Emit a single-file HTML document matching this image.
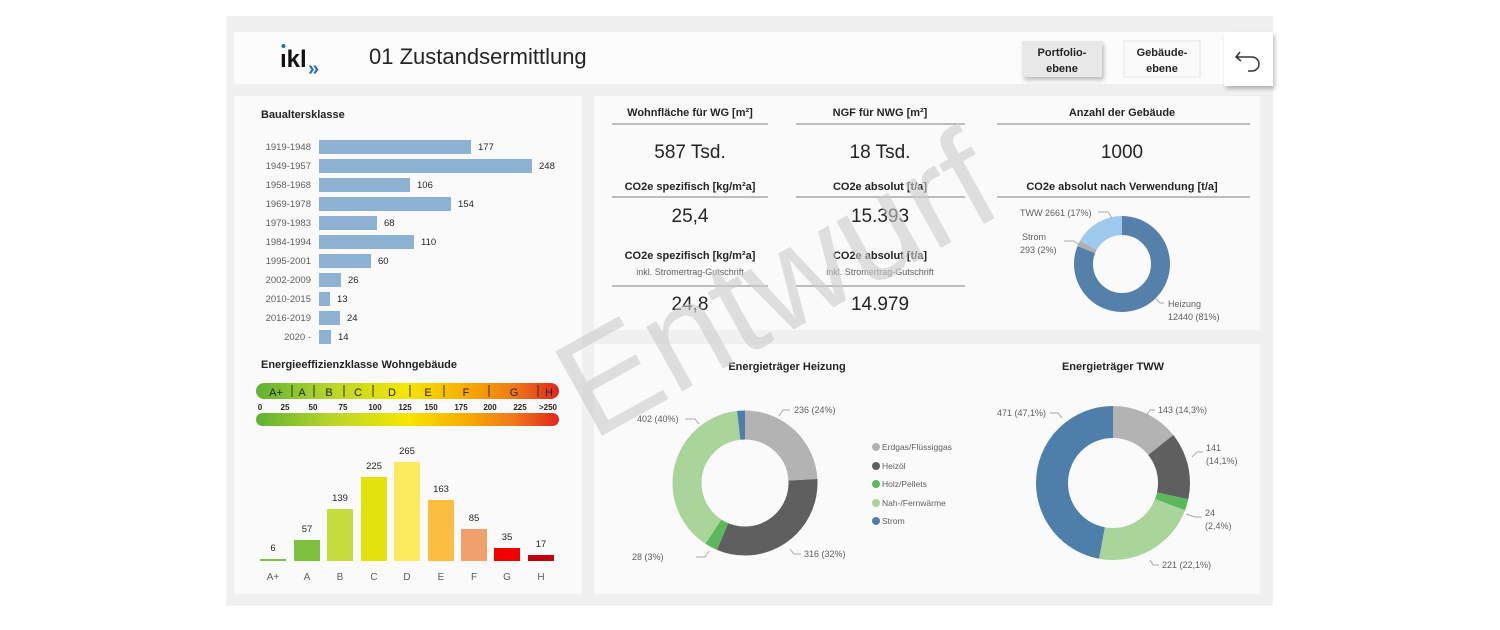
<!DOCTYPE html>
<html><head><meta charset="utf-8"><style>
html,body{margin:0;padding:0;background:#fff;}
svg{display:block;font-family:"Liberation Sans",sans-serif;}
.t{font-weight:bold;font-size:11px;fill:#252423;}
.s{font-size:9px;fill:#605e5c;}
.v{font-size:19px;fill:#252423;}
</style></head><body>
<svg width="1500" height="630" viewBox="0 0 1500 630" xmlns="http://www.w3.org/2000/svg">
<defs>
<linearGradient id="eg" x1="0" x2="1" y1="0" y2="0">
<stop offset="0" stop-color="#5fb233"/><stop offset="0.25" stop-color="#b9d52a"/><stop offset="0.5" stop-color="#f5e600"/><stop offset="0.68" stop-color="#f9b000"/><stop offset="0.85" stop-color="#ef7a1a"/><stop offset="1" stop-color="#e0261c"/>
</linearGradient>
<filter id="sh" x="-30%" y="-30%" width="160%" height="160%"><feDropShadow dx="2" dy="3" stdDeviation="2" flood-color="#000" flood-opacity="0.25"/></filter>
</defs>
<rect x="226" y="16" width="1047" height="590" fill="#f0f0f0"/>
<rect x="234" y="32" width="990" height="52" fill="#fcfcfc"/>
<text x="280" y="67" font-size="24" font-weight="bold" fill="#111">ıkl</text>
<circle cx="283.5" cy="46" r="2" fill="#1e6fb5"/>
<text x="308" y="75" font-size="20" font-weight="bold" fill="#1e6fb5">»</text>
<text x="369" y="64" font-size="22" fill="#252423">01 Zustandsermittlung</text>
<rect x="1022" y="41" width="80" height="36" fill="#e8e8e8" filter="url(#sh)"/>
<text x="1062" y="56" font-size="11" font-weight="bold" fill="#252423" text-anchor="middle">Portfolio-</text>
<text x="1062" y="72" font-size="11" font-weight="bold" fill="#252423" text-anchor="middle">ebene</text>
<rect x="1124" y="41" width="76" height="36" fill="#fafafa" stroke="#e5e5e5"/>
<text x="1162" y="56" font-size="11" font-weight="bold" fill="#252423" text-anchor="middle">Gebäude-</text>
<text x="1162" y="72" font-size="11" font-weight="bold" fill="#252423" text-anchor="middle">ebene</text>
<rect x="1224" y="32" width="49" height="54" fill="#fff" filter="url(#sh)"/>
<path d="M1240 52 L1236 57 L1241 61 M1236 57 H1252 A7 7 0 0 1 1252 71 H1248" fill="none" stroke="#333" stroke-width="1.5"/>
<rect x="234" y="96" width="348" height="498" fill="#fafafa"/>
<rect x="594" y="96" width="666" height="234" fill="#fafafa"/>
<rect x="594" y="344" width="666" height="250" fill="#fafafa"/>
<text x="261" y="118" class="t">Baualtersklasse</text>
<g font-size="9.5" fill="#605e5c" text-anchor="end">
<text x="311" y="150">1919-1948</text><text x="311" y="169">1949-1957</text><text x="311" y="188">1958-1968</text><text x="311" y="207">1969-1978</text><text x="311" y="226">1979-1983</text><text x="311" y="245">1984-1994</text><text x="311" y="264">1995-2001</text><text x="311" y="283">2002-2009</text><text x="311" y="302">2010-2015</text><text x="311" y="321">2016-2019</text><text x="311" y="340">2020 -</text>
</g>
<g fill="#8cb1d3">
<rect x="319" y="140" width="152" height="14"/><rect x="319" y="159" width="213" height="14"/><rect x="319" y="178" width="91" height="14"/><rect x="319" y="197" width="132" height="14"/><rect x="319" y="216" width="58" height="14"/><rect x="319" y="235" width="95" height="14"/><rect x="319" y="254" width="52" height="14"/><rect x="319" y="273" width="22" height="14"/><rect x="319" y="292" width="11" height="14"/><rect x="319" y="311" width="21" height="14"/><rect x="319" y="330" width="12" height="14"/>
</g>
<g font-size="9.5" fill="#252423">
<text x="478" y="150">177</text><text x="539" y="169">248</text><text x="417" y="188">106</text><text x="458" y="207">154</text><text x="384" y="226">68</text><text x="421" y="245">110</text><text x="378" y="264">60</text><text x="348" y="283">26</text><text x="337" y="302">13</text><text x="347" y="321">24</text><text x="338" y="340">14</text>
</g>
<text x="261" y="368" class="t">Energieeffizienzklasse Wohngebäude</text>
<rect x="256" y="383" width="303" height="16" rx="8" fill="url(#eg)"/>
<rect x="256" y="413" width="303" height="13" rx="6.5" fill="url(#eg)"/>
<g stroke="#333" stroke-width="1">
<line x1="292" y1="385" x2="292" y2="397"/><line x1="314" y1="385" x2="314" y2="397"/><line x1="344" y1="385" x2="344" y2="397"/><line x1="373" y1="385" x2="373" y2="397"/><line x1="410" y1="385" x2="410" y2="397"/><line x1="444" y1="385" x2="444" y2="397"/><line x1="489" y1="385" x2="489" y2="397"/><line x1="538" y1="385" x2="538" y2="397"/>
</g>
<g font-size="11" fill="#252423" text-anchor="middle">
<text x="276" y="396">A+</text><text x="302" y="396">A</text><text x="329" y="396">B</text><text x="358" y="396">C</text><text x="392" y="396">D</text><text x="428" y="396">E</text><text x="466" y="396">F</text><text x="514" y="396">G</text><text x="549" y="396">H</text>
</g>
<g font-size="8" font-weight="bold" fill="#252423" text-anchor="middle">
<text x="260" y="410">0</text><text x="285" y="410">25</text><text x="313" y="410">50</text><text x="343" y="410">75</text><text x="375" y="410">100</text><text x="405" y="410">125</text><text x="431" y="410">150</text><text x="461" y="410">175</text><text x="490" y="410">200</text><text x="520" y="410">225</text><text x="548" y="410">&gt;250</text>
</g>
<rect x="260" y="559" width="26" height="2" fill="#7dc14b"/>
<rect x="294" y="540" width="26" height="21" fill="#7dc13e"/>
<rect x="327" y="509" width="26" height="52" fill="#c5de3e"/>
<rect x="361" y="477" width="26" height="84" fill="#e4e20e"/>
<rect x="394" y="462" width="26" height="99" fill="#fdeb5f"/>
<rect x="428" y="500" width="26" height="61" fill="#fbbd42"/>
<rect x="461" y="529" width="26" height="32" fill="#f0a06a"/>
<rect x="494" y="548" width="26" height="13" fill="#f00000"/>
<rect x="528" y="555" width="26" height="6" fill="#c0000e"/>
<g font-size="9.5" fill="#252423" text-anchor="middle">
<text x="273" y="551">6</text><text x="307" y="532">57</text><text x="340" y="501">139</text><text x="374" y="469">225</text><text x="407" y="454">265</text><text x="441" y="492">163</text><text x="474" y="521">85</text><text x="507" y="540">35</text><text x="541" y="547">17</text>
</g>
<g font-size="10" fill="#605e5c" text-anchor="middle">
<text x="273" y="580">A+</text><text x="307" y="580">A</text><text x="340" y="580">B</text><text x="374" y="580">C</text><text x="407" y="580">D</text><text x="441" y="580">E</text><text x="474" y="580">F</text><text x="507" y="580">G</text><text x="541" y="580">H</text>
</g>
<g text-anchor="middle">
<text x="690" y="116" class="t">Wohnfläche für WG [m²]</text>
<text x="880" y="116" class="t">NGF für NWG [m²]</text>
<text x="1122" y="116" class="t">Anzahl der Gebäude</text>
<text x="690" y="190" class="t">CO2e spezifisch [kg/m²a]</text>
<text x="880" y="190" class="t">CO2e absolut [t/a]</text>
<text x="1122" y="190" class="t">CO2e absolut nach Verwendung [t/a]</text>
<text x="690" y="259" class="t">CO2e spezifisch [kg/m²a]</text>
<text x="880" y="259" class="t">CO2e absolut [t/a]</text>
<text x="690" y="275" class="s">inkl. Stromertrag-Gutschrift</text><text x="880" y="275" class="s">inkl. Stromertrag-Gutschrift</text>
</g>
<g stroke="#999" stroke-width="1.2">
<line x1="612" y1="124" x2="768" y2="124"/><line x1="796" y1="124" x2="965" y2="124"/><line x1="997" y1="124" x2="1250" y2="124"/>
<line x1="612" y1="197" x2="768" y2="197"/><line x1="796" y1="197" x2="965" y2="197"/><line x1="997" y1="197" x2="1250" y2="197"/>
<line x1="612" y1="286" x2="768" y2="286"/><line x1="796" y1="286" x2="965" y2="286"/>
</g>
<g text-anchor="middle">
<text x="690" y="158" class="v">587 Tsd.</text><text x="880" y="158" class="v">18 Tsd.</text><text x="1122" y="158" class="v">1000</text>
<text x="690" y="222" class="v">25,4</text><text x="880" y="222" class="v">15.393</text>
<text x="690" y="310" class="v">24,8</text><text x="880" y="310" class="v">14.979</text>
</g>
<g transform="translate(1122,264) rotate(-90)" fill="none" stroke-width="19">
<circle r="38.5" stroke="#5580aa" stroke-dasharray="195.9 241.9"/>
<circle r="38.5" stroke="#b0b0b0" stroke-dasharray="4.8 241.9" stroke-dashoffset="-195.9"/>
<circle r="38.5" stroke="#9fcaee" stroke-dasharray="41.2 241.9" stroke-dashoffset="-200.7"/>
</g>
<g font-size="9" fill="#605e5c">
<text x="1020" y="216">TWW 2661 (17%)</text>
<text x="1022" y="240">Strom</text><text x="1020" y="253">293 (2%)</text>
<text x="1168" y="307">Heizung</text><text x="1168" y="320">12440 (81%)</text>
</g>
<g fill="none" stroke="#aaa"><path d="M1098 212 H1108 L1112 218"/><path d="M1064 241 H1074 L1079 245"/><path d="M1164 303 H1160 L1155 298"/></g>
<text x="787" y="370" class="t" text-anchor="middle">Energieträger Heizung</text>
<g transform="translate(745,483) rotate(-90)" fill="none" stroke-width="29">
<circle r="58" stroke="#b3b3b3" stroke-dasharray="87.7 364.4"/>
<circle r="58" stroke="#5f5f5f" stroke-dasharray="117.4 364.4" stroke-dashoffset="-87.7"/>
<circle r="58" stroke="#5cb85c" stroke-dasharray="10.4 364.4" stroke-dashoffset="-205.1"/>
<circle r="58" stroke="#a9d49a" stroke-dasharray="142.2 364.4" stroke-dashoffset="-215.5"/>
<circle r="58" stroke="#4e7fab" stroke-dasharray="6.7 364.4" stroke-dashoffset="-357.7"/>
</g>
<g font-size="9" fill="#605e5c">
<text x="794" y="413">236 (24%)</text><text x="804" y="557">316 (32%)</text><text x="632" y="560">28 (3%)</text><text x="637" y="422">402 (40%)</text>
</g>
<g fill="none" stroke="#aaa"><path d="M790 410 H783 L779 416"/><path d="M801 554 H794 L790 549"/><path d="M696 557 H705 L709 551"/><path d="M685 419 H695 L699 424"/></g>
<g font-size="8.5" fill="#605e5c">
<circle cx="876" cy="447" r="4" fill="#b3b3b3"/><text x="882" y="450">Erdgas/Flüssiggas</text>
<circle cx="876" cy="466" r="4" fill="#5f5f5f"/><text x="882" y="469">Heizöl</text>
<circle cx="876" cy="484" r="4" fill="#5cb85c"/><text x="882" y="487">Holz/Pellets</text>
<circle cx="876" cy="503" r="4" fill="#a9d49a"/><text x="882" y="506">Nah-/Fernwärme</text>
<circle cx="876" cy="521" r="4" fill="#4e7fab"/><text x="882" y="524">Strom</text>
</g>
<text x="1113" y="370" class="t" text-anchor="middle">Energieträger TWW</text>
<g transform="translate(1113,483) rotate(-90)" fill="none" stroke-width="32">
<circle r="61" stroke="#b3b3b3" stroke-dasharray="54.8 383.3"/>
<circle r="61" stroke="#5f5f5f" stroke-dasharray="54.0 383.3" stroke-dashoffset="-54.8"/>
<circle r="61" stroke="#5cb85c" stroke-dasharray="9.2 383.3" stroke-dashoffset="-108.8"/>
<circle r="61" stroke="#a9d49a" stroke-dasharray="84.7 383.3" stroke-dashoffset="-118.0"/>
<circle r="61" stroke="#4e7fab" stroke-dasharray="180.6 383.3" stroke-dashoffset="-202.7"/>
</g>
<g font-size="9" fill="#605e5c">
<text x="997" y="416">471 (47,1%)</text><text x="1158" y="413">143 (14,3%)</text>
<text x="1206" y="451">141</text><text x="1206" y="464">(14,1%)</text>
<text x="1205" y="516">24</text><text x="1205" y="529">(2,4%)</text>
<text x="1162" y="568">221 (22,1%)</text>
</g>
<g fill="none" stroke="#aaa"><path d="M1050 413 H1058 L1062 418"/><path d="M1155 410 H1150 L1146 416"/><path d="M1203 452 H1197 L1192 457"/><path d="M1202 517 H1195 L1186 514"/><path d="M1159 565 H1153 L1150 560"/></g>
<text x="785" y="330" font-size="140" fill="#cccccc" fill-opacity="0.6" text-anchor="middle" transform="rotate(-29 785 300)">Entwurf</text>
</svg>
</body></html>
